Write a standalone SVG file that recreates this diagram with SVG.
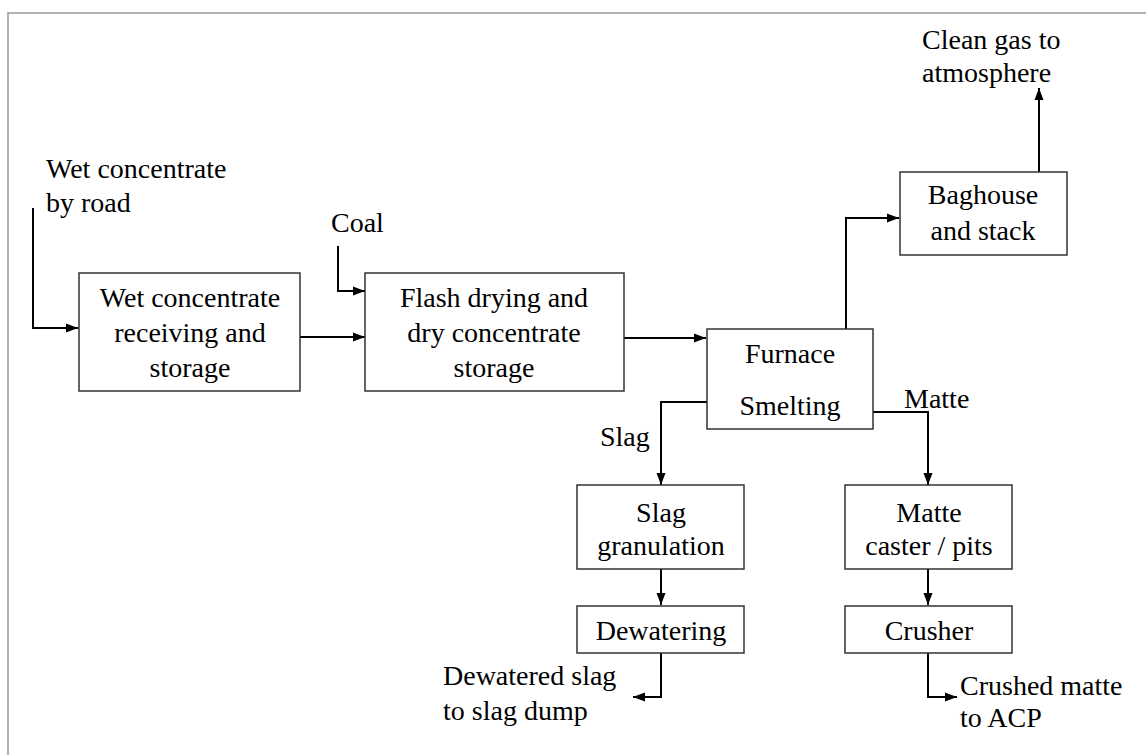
<svg xmlns="http://www.w3.org/2000/svg" width="1146" height="755" viewBox="0 0 1146 755">
<style>
.box{fill:#fff;stroke:#333;stroke-width:1.5}
.c{text-anchor:middle}
.ln{fill:none;stroke:#000;stroke-width:2}
</style>
<defs>
<marker id="ah" viewBox="0 0 12 10" refX="12" refY="5" markerWidth="12" markerHeight="10" markerUnits="userSpaceOnUse" orient="auto">
<path d="M0,0.5 L12,5 L0,9.5 Z" fill="#000"/>
</marker>
</defs>
<rect width="1146" height="755" fill="#fff"/>
<path d="M8,755 V13 H1146" fill="none" stroke="#999" stroke-width="1.5"/>
<g id="connectors">
<path class="ln" d="M33,208 V328 H78" marker-end="url(#ah)"/>
<path class="ln" d="M338,246 V291 H365" marker-end="url(#ah)"/>
<path class="ln" d="M300,337 H365" marker-end="url(#ah)"/>
<path class="ln" d="M624,338 H706" marker-end="url(#ah)"/>
<path class="ln" d="M846,329 V218 H899" marker-end="url(#ah)"/>
<path class="ln" d="M1039,172 V88" marker-end="url(#ah)"/>
<path class="ln" d="M707,402 H661 V485" marker-end="url(#ah)"/>
<path class="ln" d="M873,412 H928 V485" marker-end="url(#ah)"/>
<path class="ln" d="M661,569 V605" marker-end="url(#ah)"/>
<path class="ln" d="M928,569 V605" marker-end="url(#ah)"/>
<path class="ln" d="M661,653 V697 H633" marker-end="url(#ah)"/>
<path class="ln" d="M928,653 V697 H957" marker-end="url(#ah)"/>
</g>
<g font-family="Liberation Serif, serif" font-size="28" fill="#000">
<g id="labels">
<text x="46" y="178">Wet concentrate</text>
<text x="46" y="212">by road</text>
<text x="331" y="232">Coal</text>
<text x="922" y="49">Clean gas to</text>
<text x="922" y="82">atmosphere</text>
<text x="600" y="446">Slag</text>
<text x="904" y="408">Matte</text>
<text x="443" y="685">Dewatered slag</text>
<text x="443" y="720">to slag dump</text>
<text x="960" y="695">Crushed matte</text>
<text x="960" y="727">to ACP</text>
</g>
<g id="receiving">
<rect class="box" x="79" y="273" width="221" height="118"/>
<text class="c" x="190" y="307">Wet concentrate</text>
<text class="c" x="190" y="342">receiving and</text>
<text class="c" x="190" y="377">storage</text>
</g>
<g id="flash">
<rect class="box" x="365" y="273" width="259" height="118"/>
<text class="c" x="494" y="307">Flash drying and</text>
<text class="c" x="494" y="342">dry concentrate</text>
<text class="c" x="494" y="377">storage</text>
</g>
<g id="furnace">
<rect class="box" x="707" y="329" width="166" height="100"/>
<text class="c" x="790" y="363">Furnace</text>
<text class="c" x="790" y="415">Smelting</text>
</g>
<g id="baghouse">
<rect class="box" x="900" y="172" width="167" height="83"/>
<text class="c" x="983" y="204">Baghouse</text>
<text class="c" x="983" y="240">and stack</text>
</g>
<g id="slaggran">
<rect class="box" x="577" y="485" width="167" height="84"/>
<text class="c" x="661" y="522">Slag</text>
<text class="c" x="661" y="555">granulation</text>
</g>
<g id="mattecaster">
<rect class="box" x="845" y="485" width="167" height="84"/>
<text class="c" x="929" y="522">Matte</text>
<text class="c" x="929" y="555">caster / pits</text>
</g>
<g id="dewatering">
<rect class="box" x="577" y="606" width="167" height="47"/>
<text class="c" x="661" y="640">Dewatering</text>
</g>
<g id="crusher">
<rect class="box" x="845" y="606" width="167" height="47"/>
<text class="c" x="929" y="640">Crusher</text>
</g>
</g>
</svg>
